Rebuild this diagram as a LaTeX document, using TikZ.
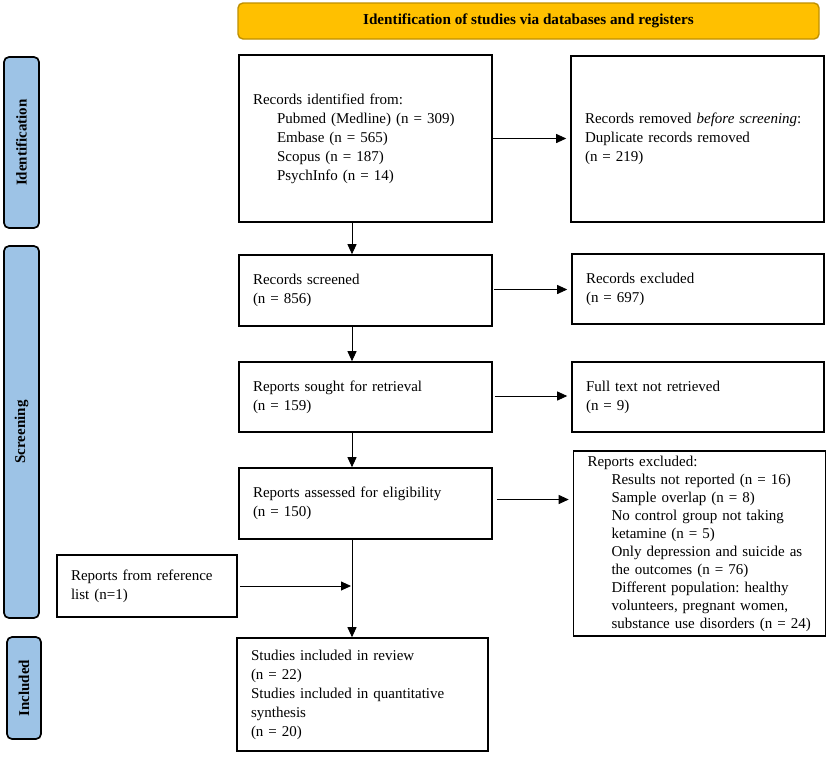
\documentclass[tikz,border=0pt]{standalone}
\usepackage{fontspec}
\setmainfont{Liberation Serif}
\usetikzlibrary{arrows.meta}
\definecolor{sideblue}{HTML}{9DC3E6}
\definecolor{bannergold}{HTML}{FFC000}
\definecolor{bannerline}{HTML}{BF9000}
\frenchspacing
\begin{document}
\begin{tikzpicture}[x=1pt,y=-1pt,
  txt/.style={font=\fontsize{15}{19}\selectfont},
  flowbox/.style={txt,draw=black,line width=1.6pt,align=left,inner xsep=14pt,inner ysep=0pt,anchor=center,
     execute at begin node=\frenchspacing},
  sidebox/.style={draw=black,line width=1.7pt,fill=sideblue,rounded corners=5pt,rotate=90,inner sep=0pt,
     font=\fontsize{15}{18}\selectfont\bfseries,anchor=center},
  arr/.style={line width=0.9pt,-{Triangle[length=10pt,width=9pt]}},
]
\useasboundingbox (0,0) rectangle (829,756);
\fill[white] (0,0) rectangle (829,756);

% banner
\node[draw=bannerline,line width=1.4pt,fill=bannergold,rounded corners=5pt,minimum width=581pt,minimum height=36pt,
  inner sep=0pt,font=\fontsize{15.2}{18}\selectfont\bfseries] (banner) at (528.5,21) {Identification of studies via databases and registers};

% side labels
\node[sidebox,minimum width=171pt,minimum height=35pt] (sid) at (21.5,142.5) {Identification};
\node[sidebox,minimum width=372pt,minimum height=35pt] (ssc) at (21.5,432) {Screening};
\node[sidebox,minimum width=102pt,minimum height=34pt] (sin) at (24,688) {Included};

% main column
\node[flowbox,text width=225pt,minimum height=167pt] (b1) at (365.5,138.5)
  {Records identified from:\\
   \hspace*{24pt}Pubmed (Medline) (n = 309)\\
   \hspace*{24pt}Embase (n = 565)\\
   \hspace*{24pt}Scopus (n = 187)\\
   \hspace*{24pt}PsychInfo (n = 14)};
\node[flowbox,text width=225pt,minimum height=71pt] (b2) at (365.5,290.5)
  {Records screened\\(n = 856)};
\node[flowbox,text width=225pt,minimum height=70pt] (b3) at (365.5,397)
  {Reports sought for retrieval\\(n = 159)};
\node[flowbox,text width=225pt,minimum height=71pt] (b4) at (365.5,503.5)
  {Reports assessed for eligibility\\(n = 150)};
\node[flowbox,text width=223pt,minimum height=113pt] (b5) at (362.5,694.5)
  {Studies included in review\\(n = 22)\\Studies included in quantitative\\synthesis\\(n = 20)};

% right column
\node[flowbox,text width=225pt,minimum height=166pt] (r1) at (697.5,139)
  {\mbox{Records removed \emph{before screening}:}\\Duplicate records removed\\(n = 219)};
\node[flowbox,text width=224pt,minimum height=70pt] (r2) at (698,289)
  {Records excluded\\(n = 697)};
\node[flowbox,text width=224pt,minimum height=70pt] (r3) at (698,397)
  {Full text not retrieved\\(n = 9)};
\node[flowbox,text width=224pt,minimum height=185pt,font=\fontsize{15}{18}\selectfont] (r4) at (699.5,543.5)
  {Reports excluded:\\
   \hspace*{24pt}\mbox{Results not reported (n = 16)}\\
   \hspace*{24pt}\mbox{Sample overlap (n = 8)}\\
   \hspace*{24pt}\mbox{No control group not taking}\\
   \hspace*{24pt}\mbox{ketamine (n = 5)}\\
   \hspace*{24pt}\mbox{Only depression and suicide as}\\
   \hspace*{24pt}\mbox{the outcomes (n = 76)}\\
   \hspace*{24pt}\mbox{Different population: healthy}\\
   \hspace*{24pt}\mbox{volunteers, pregnant women,}\\
   \hspace*{24pt}\mbox{substance use disorders (n = 24)}};

% other sources
\node[flowbox,text width=152pt,minimum height=62pt] (ref) at (147,586)
  {Reports from reference\\list (n=1)};

% connectors
\coordinate (col) at (352,0);
\draw[arr] (b1.south -| col) -- (b2.north -| col);
\draw[arr] (b2.south -| col) -- (b3.north -| col);
\draw[arr] (b3.south -| col) -- (b4.north -| col);
\draw[arr] (b4.south -| col) -- (b5.north -| col);
\draw[arr,shorten <=2pt,shorten >=1pt] (ref.east) -- (ref.east -| col);

\draw[arr,shorten >=4pt] (b1.east) -- (b1.east -| r1.west);
\draw[arr,shorten <=1pt,shorten >=4pt] ([yshift=1pt]b2.east) -- ([yshift=1pt]b2.east -| r2.west);
\draw[arr,shorten <=2pt,shorten >=4pt] ([yshift=1pt]b3.east) -- ([yshift=1pt]b3.east -| r3.west);
\draw[arr,shorten <=4pt,shorten >=4pt] ([yshift=4pt]b4.east) -- ([yshift=4pt]b4.east -| r4.west);
\end{tikzpicture}
\end{document}
